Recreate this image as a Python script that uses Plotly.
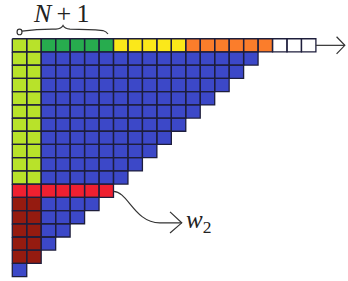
import numpy as np
import plotly.graph_objects as go

# ---------------- data ----------------
categories = ["lime", "green", "yellow", "orange", "white", "blue", "red", "brown"]
category_colors = ["#b8e22a", "#27ac4e", "#fbe81a", "#fb7d2b", "#ffffff",
                   "#3c48c8", "#ef2030", "#951b10"]

# number of cells in each row (top to bottom)
row_lengths = [21, 17, 16, 15, 14, 13, 12, 11, 10, 9, 8, 7, 6, 5, 4, 3, 2, 1]

# colours of the first (top) row, left to right
top_row_colors = (["lime"] * 2 + ["green"] * 5 + ["yellow"] * 5 +
                  ["orange"] * 6 + ["white"] * 3)

# colours of the left band (first two columns) for rows 1..17
left_band_colors = ["lime"] * 10 + ["red"] + ["brown"] * 5 + ["blue"]
left_band_width = 2

# rows painted entirely in one colour
full_rows = {11: "red"}
fill_color = "blue"

brace_label = "<i>N</i>&#8201;+&#8201;1"
curve_label = "<i>w</i><sub>2</sub>"

# ---------------- build cells ----------------
n_rows = len(row_lengths)
n_cols = max(row_lengths)
z = np.full((n_rows, n_cols), np.nan)
for r, length in enumerate(row_lengths):
    for c in range(length):
        if r == 0:
            name = top_row_colors[c]
        elif r in full_rows:
            name = full_rows[r]
        elif c < left_band_width:
            name = left_band_colors[r - 1]
        else:
            name = fill_color
        z[r, c] = categories.index(name)

k = len(categories)
colorscale = []
for i, col in enumerate(category_colors):
    colorscale.append([i / k, col])
    colorscale.append([(i + 1) / k, col])

heat = go.Heatmap(
    z=z, x=np.arange(n_cols) + 0.5, y=np.arange(n_rows) + 0.5,
    colorscale=colorscale, zmin=-0.5, zmax=k - 0.5, showscale=False,
    hoverinfo="skip",
)

# cell outlines
gx, gy = [], []
for r, length in enumerate(row_lengths):
    for c in range(length):
        gx += [c, c + 1, c + 1, c, c, None]
        gy += [r, r, r + 1, r + 1, r, None]
grid = go.Scatter(x=gx, y=gy, mode="lines",
                  line=dict(color="#1e1e3c", width=1.3), hoverinfo="skip")

line_col = "#333333"
# top arrow
arrow_top = go.Scatter(
    x=[n_cols, 23.0, None, 22.43, 23.0, 22.43],
    y=[0.5, 0.5, None, -0.15, 0.5, 1.15],
    mode="lines", line=dict(color=line_col, width=1.2), hoverinfo="skip")
# w2 arrowhead
arrow_w = go.Scatter(
    x=[10.91, 11.72, 10.91], y=[13.1, 13.93, 14.7],
    mode="lines", line=dict(color=line_col, width=1.2), hoverinfo="skip")

fig = go.Figure([heat, grid, arrow_top, arrow_w])

fig.add_shape(type="path", xref="x", yref="y",
              path="M 0.67,-0.58 Q 1.8,-0.75 3.02,-0.73 Q 3.4,-0.75 3.51,-1.0 "
                   "Q 3.62,-0.75 3.99,-0.73 Q 5.3,-0.72 6.27,-0.62 Q 6.5,-0.55 6.62,-0.36",
              line=dict(color=line_col, width=1.2))
fig.add_shape(type="circle", xref="x", yref="y", x0=0.33, x1=0.67, y0=-0.72, y1=-0.3,
              line=dict(color=line_col, width=1.2))
fig.add_shape(type="path", xref="x", yref="y",
              path="M 7,11.55 C 8.0,11.55 8.45,13.93 10.2,13.93 L 11.72,13.93",
              line=dict(color=line_col, width=1.2))

fig.add_annotation(x=3.37, y=-1.94, text=brace_label, showarrow=False,
                   font=dict(family="Liberation Serif", size=26, color="#222222"),
                   xanchor="center", yanchor="middle")
fig.add_annotation(x=11.85, y=13.8, text=curve_label, showarrow=False,
                   font=dict(family="Liberation Serif", size=25, color="#222222"),
                   xanchor="left", yanchor="middle")

fig.update_layout(
    width=348, height=281, margin=dict(l=0, r=0, t=0, b=0),
    paper_bgcolor="white", plot_bgcolor="white", showlegend=False,
    xaxis=dict(range=[-0.85, 23.22], visible=False, fixedrange=True),
    yaxis=dict(range=[18.33, -2.93], visible=False, fixedrange=True),
)

fig.write_html(
    "out.html",
    config={"displayModeBar": False},
    post_script="document.body.style.margin='0';document.body.style.overflow='hidden';",
)
